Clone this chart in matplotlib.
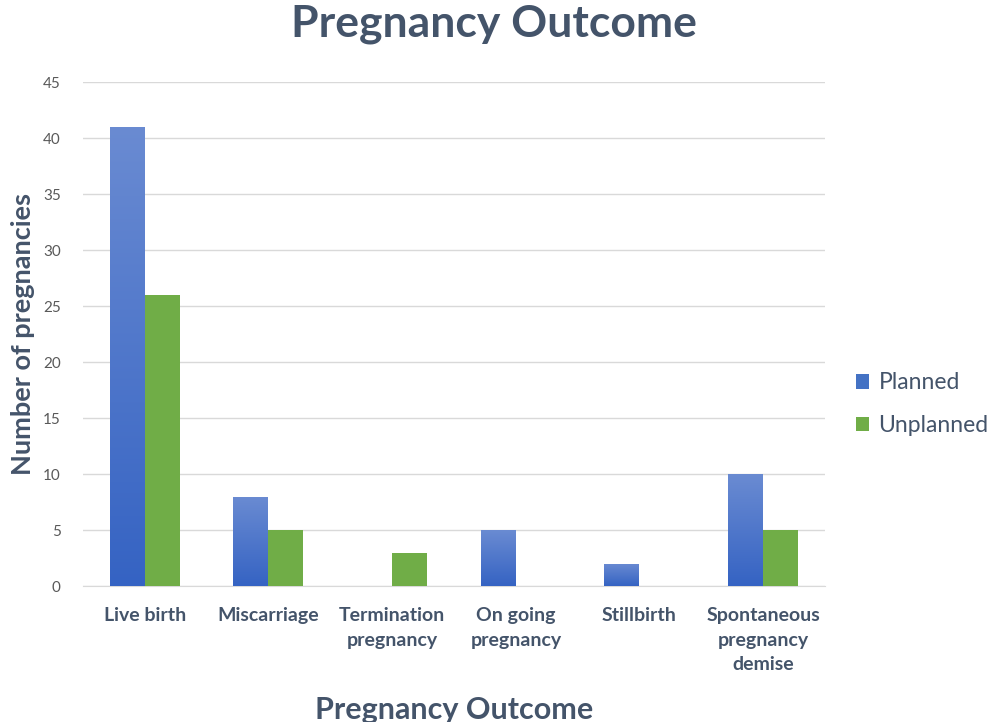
import numpy as np
import matplotlib
matplotlib.use('Agg')
import matplotlib.pyplot as plt
import matplotlib.patches as patches
from matplotlib.colors import LinearSegmentedColormap

# 데이터
categories = ['Live birth', 'Miscarriage', 'Termination\npregnancy',
              'On going\npregnancy', 'Stillbirth', 'Spontaneous\npregnancy\ndemise']
planned = [41, 8, 0, 5, 2, 10]
unplanned = [26, 5, 3, 0, 0, 5]
y_ticks = [0, 5, 10, 15, 20, 25, 30, 35, 40, 45]

text_color = '#44546A'
plt.rcParams['font.family'] = ['Lato', 'DejaVu Sans']

fig = plt.figure(figsize=(9.88, 7.22), dpi=100)
ax = fig.add_axes([0.084, 0.188, 0.751, 0.698])

x = np.arange(len(categories))
w = 0.283

bars_p = ax.bar(x - w / 2, planned, w, color='#4472C4', label='Planned', zorder=3)
bars_u = ax.bar(x + w / 2, unplanned, w, color='#70AD47', label='Unplanned', zorder=3)

# 파란 막대 그라데이션 (위쪽이 밝음)
blue_grad = LinearSegmentedColormap.from_list('bg', ['#3563C3', '#6A8BD2'])
grad = np.linspace(0, 1, 256).reshape(-1, 1)
for rect in bars_p:
    h = rect.get_height()
    if h <= 0:
        continue
    x0 = rect.get_x()
    im = ax.imshow(grad, cmap=blue_grad, origin='lower', aspect='auto',
                   extent=[x0, x0 + rect.get_width(), 0, h], zorder=3.5)
    im.set_clip_path(rect)

ax.set_xlim(-0.5, len(categories) - 0.5)
ax.set_ylim(0, 45)
ax.set_yticks(y_ticks)
ax.set_xticks(x)
ax.set_xticklabels(categories, fontsize=14, fontweight='bold', color=text_color,
                   linespacing=1.55, va='top')
ax.tick_params(axis='y', labelsize=11, colors='#595959', length=0, pad=16)
ax.tick_params(axis='x', length=0, pad=15)

ax.grid(axis='y', color='#D9D9D9', linewidth=1, zorder=0)
for s in ['top', 'right', 'left']:
    ax.spines[s].set_visible(False)
ax.spines['bottom'].set_color('#D9D9D9')

ax.set_ylabel('Number of pregnancies', fontsize=19.5, fontweight='bold', color=text_color, labelpad=6)
ax.set_xlabel('Pregnancy Outcome', fontsize=22, fontweight='bold', color=text_color, labelpad=16)
fig.suptitle('Pregnancy Outcome', fontsize=32, fontweight='bold', color=text_color, x=0.5, y=0.995)

handles = [patches.Rectangle((0, 0), 1, 1, facecolor='#4472C4'),
           patches.Rectangle((0, 0), 1, 1, facecolor='#70AD47')]
leg = fig.legend(handles, ['Planned', 'Unplanned'], loc='center left',
                 bbox_to_anchor=(0.866, 0.44), frameon=False, fontsize=16.5,
                 handlelength=0.6, handleheight=0.6, handletextpad=0.4, labelspacing=0.95,
                 borderpad=0, borderaxespad=0)
for t in leg.get_texts():
    t.set_color(text_color)

fig.savefig('out.png', dpi=100)
